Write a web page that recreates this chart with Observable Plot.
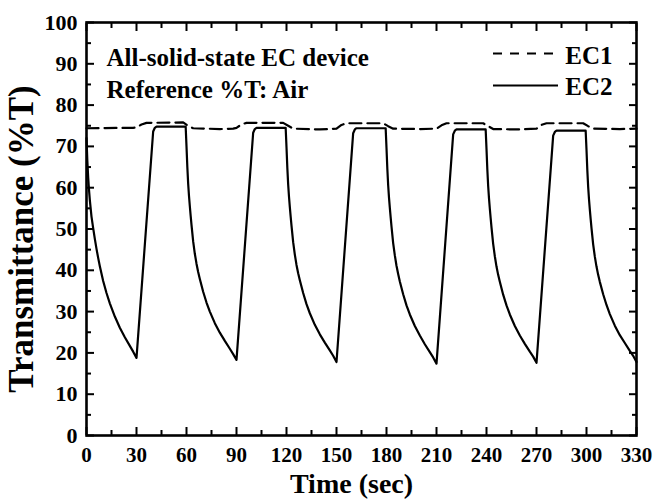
<!DOCTYPE html>
<html>
<head>
<meta charset="utf-8">
<script src="https://cdn.jsdelivr.net/npm/d3@7"></script>
<script src="https://cdn.jsdelivr.net/npm/@observablehq/plot@0.6"></script>
<style>
  html, body { margin: 0; padding: 0; background: #fff; }
</style>
</head>
<body>
<div id="chart"></div>
<script>
// ---- Data ----
const ec2Time = [
  0, 0.5, 1, 1.5, 2, 3, 4, 5, 6, 7, 8, 10, 12, 14, 17, 20, 23, 26, 28, 30,
  40, 41, 42, 59.5,
  60, 60.5, 61, 61.5, 62, 62.5, 63, 64, 65, 66, 67, 68, 70, 72, 74, 77, 80, 83, 86, 88, 90,
  100, 101, 102, 119.5,
  120, 120.5, 121, 121.5, 122, 122.5, 123, 124, 125, 126, 127, 128, 130, 132, 134, 137, 140, 143, 146, 148, 150,
  160, 161, 162, 179.5,
  180, 180.5, 181, 181.5, 182, 182.5, 183, 184, 185, 186, 187, 188, 190, 192, 194, 197, 200, 203, 206, 208, 210,
  220, 221, 222, 239.5,
  240, 240.5, 241, 241.5, 242, 242.5, 243, 244, 245, 246, 247, 248, 250, 252, 254, 257, 260, 263, 266, 268, 270,
  280, 281, 282, 299.5,
  300, 300.5, 301, 301.5, 302, 302.5, 303, 304, 305, 306, 307, 308, 310, 312, 314, 317, 320, 323, 326, 328, 330
];
const ec2Values = [
  72, 66.5, 62.5, 59.5, 57, 53, 50.2, 47.6, 45.2, 43, 41, 37.4, 34.5, 32, 28.8, 26.1, 23.8, 21.7, 20.3, 18.8,
  73.6, 74.5, 74.8, 74.8,
  70, 65, 61, 58, 55.5, 53.2, 51, 47, 44, 41.6, 39.6, 37.9, 34.8, 32.2, 30, 27.2, 24.9, 22.9, 21, 19.7, 18.3,
  73.3, 74.2, 74.5, 74.5,
  69.8, 64.8, 60.8, 57.8, 55.3, 53, 50.8, 46.8, 43.8, 41.3, 39.3, 37.6, 34.5, 31.8, 29.6, 26.8, 24.5, 22.5, 20.6, 19.3, 17.8,
  73.2, 74.1, 74.4, 74.4,
  69.6, 64.6, 60.6, 57.6, 55.1, 52.8, 50.6, 46.6, 43.6, 41.1, 39.1, 37.3, 34.2, 31.5, 29.3, 26.5, 24.2, 22.1, 20.2, 18.9, 17.4,
  72.9, 73.8, 74.1, 74.1,
  69.4, 64.4, 60.4, 57.4, 54.9, 52.6, 50.4, 46.4, 43.4, 40.9, 38.9, 37.2, 34.1, 31.5, 29.3, 26.5, 24.2, 22.2, 20.3, 19.1, 17.6,
  72.6, 73.5, 73.8, 73.8,
  69.2, 64.2, 60.2, 57.2, 54.7, 52.4, 50.2, 46.3, 43.3, 40.9, 38.9, 37.2, 34.2, 31.6, 29.4, 26.6, 24.3, 22.4, 20.5, 19.3, 17.8
];
const ec1Time = [
  0, 28, 30, 33, 36, 58, 61, 64, 80, 88,
  90, 93, 96, 118, 121, 124, 140, 150,
  153, 156, 178, 181, 184, 200, 210,
  213, 216, 238, 241, 244, 260, 270,
  273, 276, 298, 301, 304, 320, 330
];
const ec1Values = [
  74.4, 74.5, 74.6, 75.3, 75.7, 75.8, 75.0, 74.4, 74.2, 74.3,
  74.5, 75.3, 75.7, 75.7, 75.0, 74.3, 74.1, 74.3,
  75.2, 75.6, 75.6, 74.9, 74.3, 74.2, 74.3,
  75.1, 75.6, 75.6, 74.9, 74.2, 74.1, 74.3,
  75.2, 75.6, 75.6, 74.9, 74.3, 74.2, 74.3
];
const xMajorTicks = [0, 30, 60, 90, 120, 150, 180, 210, 240, 270, 300, 330];
const xMinorTicks = [15, 45, 75, 105, 135, 165, 195, 225, 255, 285, 315];
const yMajorTicks = [0, 10, 20, 30, 40, 50, 60, 70, 80, 90, 100];
const yMinorTicks = [5, 15, 25, 35, 45, 55, 65, 75, 85, 95];
const seriesNames = ["EC1", "EC2"];
const annotationLines = ["All-solid-state EC device", "Reference %T: Air"];
const xTitle = "Time (sec)";
const yTitle = "Transmittance (%T)";

// ---- Tables ----
const ec1 = ec1Time.map((t, i) => ({t, v: ec1Values[i]}));
const ec2 = ec2Time.map((t, i) => ({t, v: ec2Values[i]}));

const none = () => "";
const bold = "bold";

const chart = Plot.plot({
  width: 653,
  height: 499,
  marginLeft: 86,
  marginRight: 17,
  marginTop: 22,
  marginBottom: 64,
  x: {domain: [0, 330]},
  y: {domain: [0, 100]},
  style: {
    fontFamily: "'Liberation Serif', 'Times New Roman', serif",
    fontWeight: "bold",
    background: "white",
    color: "black",
    overflow: "visible"
  },
  marks: [
    Plot.line(ec1, {x: "t", y: "v", stroke: "black", strokeWidth: 2.2, strokeDasharray: "12,6"}),
    Plot.line(ec2, {x: "t", y: "v", stroke: "black", strokeWidth: 2.2, strokeLinejoin: "round"}),

    // axes with inward ticks on all four sides
    Plot.axisX(xMajorTicks, {anchor: "bottom", tickSize: -8, tickPadding: 20, strokeWidth: 2, fontSize: 21, fontWeight: bold, label: null, tickFormat: d => String(d)}),
    Plot.axisX(xMinorTicks, {anchor: "bottom", tickSize: -5, strokeWidth: 2, tickFormat: none, label: null}),
    Plot.axisX(xMajorTicks, {anchor: "top", tickSize: -8, strokeWidth: 2, tickFormat: none, label: null}),
    Plot.axisX(xMinorTicks, {anchor: "top", tickSize: -5, strokeWidth: 2, tickFormat: none, label: null}),
    Plot.axisY(yMajorTicks, {anchor: "left", tickSize: -8, tickPadding: 17, strokeWidth: 2, fontSize: 22, fontWeight: bold, label: null, tickFormat: d => String(d)}),
    Plot.axisY(yMinorTicks, {anchor: "left", tickSize: -5, strokeWidth: 2, tickFormat: none, label: null}),
    Plot.axisY(yMajorTicks, {anchor: "right", tickSize: -8, strokeWidth: 2, tickFormat: none, label: null}),
    Plot.axisY(yMinorTicks, {anchor: "right", tickSize: -5, strokeWidth: 2, tickFormat: none, label: null}),
    Plot.frame({stroke: "black", strokeWidth: 2.6}),

    // annotation
    Plot.text([annotationLines[0]], {text: d => d, frameAnchor: "top-left", dx: 20, dy: 43, textAnchor: "start", lineAnchor: "bottom", fontSize: 25, fontWeight: bold}),
    Plot.text([annotationLines[1]], {text: d => d, frameAnchor: "top-left", dx: 20, dy: 75, textAnchor: "start", lineAnchor: "bottom", fontSize: 25, fontWeight: bold}),

    // legend
    Plot.ruleY([100], {dy: 31, insetLeft: 407, insetRight: 78, stroke: "black", strokeWidth: 2.2, strokeDasharray: "9,8"}),
    Plot.ruleY([100], {dy: 63, insetLeft: 407, insetRight: 78, stroke: "black", strokeWidth: 2.2}),
    Plot.text([seriesNames[0]], {text: d => d, frameAnchor: "top-right", dx: -24, dy: 41, textAnchor: "end", lineAnchor: "bottom", fontSize: 25, fontWeight: bold}),
    Plot.text([seriesNames[1]], {text: d => d, frameAnchor: "top-right", dx: -24, dy: 72, textAnchor: "end", lineAnchor: "bottom", fontSize: 25, fontWeight: bold}),

    // axis titles
    Plot.text([xTitle], {text: d => d, frameAnchor: "bottom", dx: -10, dy: 57, lineAnchor: "bottom", textAnchor: "middle", fontSize: 28, fontWeight: bold}),
    Plot.text([yTitle], {text: d => d, frameAnchor: "left", rotate: -90, dx: -54, dy: 10, lineAnchor: "bottom", textAnchor: "middle", fontSize: 35, fontWeight: bold})
  ]
});

document.getElementById("chart").appendChild(chart);
</script>
</body>
</html>
